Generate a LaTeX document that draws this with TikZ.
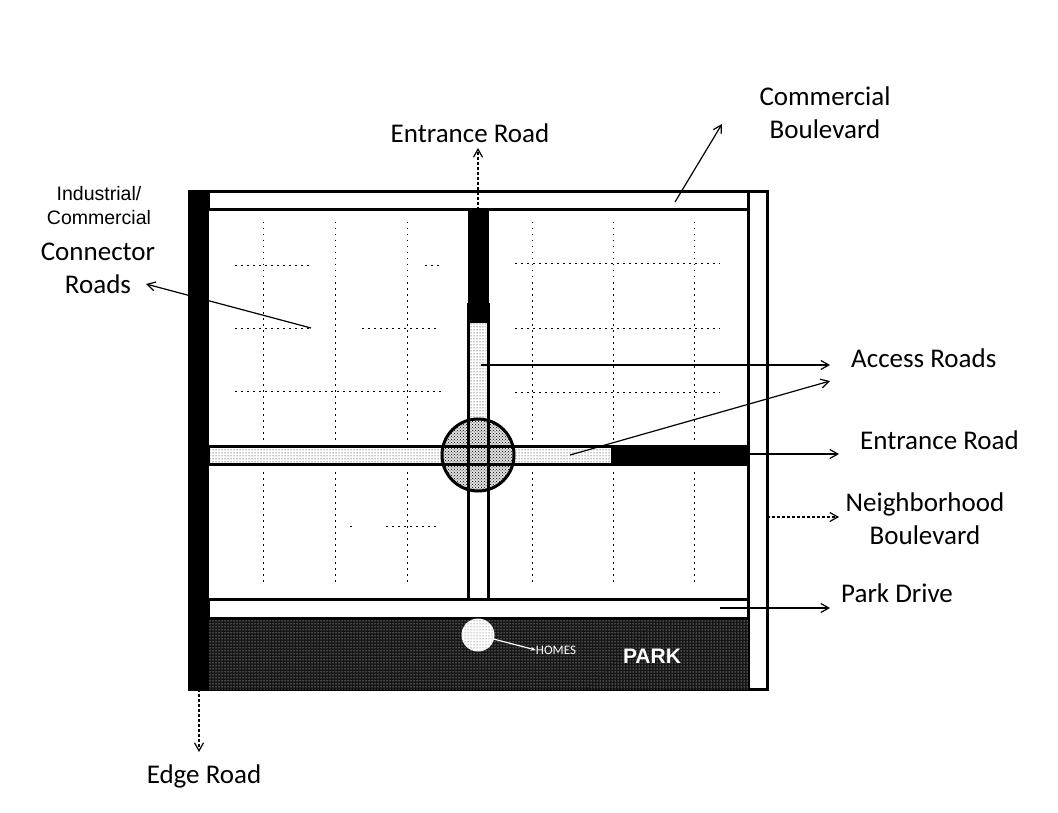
\documentclass[tikz,border=0pt]{standalone}
\usepackage{fontspec}
\setmainfont{Carlito}
\newfontfamily\labelsans{Liberation Sans}
\usepackage{xcolor}
\definecolor{ParkDark}{HTML}{161616}
\usetikzlibrary{arrows.meta,positioning,calc,patterns}

\begin{document}
\begin{tikzpicture}[x=1pt,y=-1pt,
  lbl/.style={font=\fontsize{27}{33}\selectfont,align=center,inner sep=0pt},
  lblsans/.style={font=\labelsans\fontsize{19.5}{24}\selectfont,align=center,inner sep=0pt},
  arr/.style={-{Straight Barb[length=8pt,width=9pt]},line width=1.2pt},
  road/.style={draw=black,line width=3pt,fill=white,inner sep=0pt,outer sep=0pt,anchor=north west},
  solidroad/.style={fill=black,draw=black,inner sep=0pt,outer sep=0pt,anchor=north west},
  gridline/.style={line width=0.9pt,dash pattern=on 1.5pt off 4.5pt,black}
]
  \useasboundingbox (0,0) rectangle (1058,813);
  % outer site
  \node[road,minimum width=578pt,minimum height=497pt] (site) at (189,192) {};
  \node[road,minimum width=540pt,minimum height=18pt] (commercial) at (208,192) {};
  \node[road,minimum width=19pt,minimum height=497pt] (neighborhood) at (748,192) {};
  \node[solidroad,minimum width=19pt,minimum height=497pt] (edge) at (189,192) {};
  % faint local streets
  \foreach \x in {263,335,407,532,613,694} {
    \draw[gridline] (\x,222) -- (\x,440);
    \draw[gridline] (\x,472) -- (\x,585);
  }
  \draw[gridline] (235,265) -- (310,265);
  \draw[gridline] (425,265) -- (442,265);
  \draw[gridline] (515,263) -- (720,263);
  \draw[gridline] (235,328) -- (310,328);
  \draw[gridline] (362,328) -- (440,328);
  \draw[gridline] (515,328) -- (720,328);
  \draw[gridline] (235,391) -- (442,391);
  \draw[gridline] (515,392) -- (720,392);
  \draw[gridline] (350,526) -- (356,526);
  \draw[gridline] (386,526) -- (438,526);
  % park and drive
  \node[solidroad,fill=ParkDark,minimum width=540pt,minimum height=72pt] (park) at (208,617) {};
  \fill[pattern=dots,pattern color=white] (park.north west) rectangle (park.south east);
  \node[road,minimum width=540pt,minimum height=19pt] (parkdrive) at (208,599) {};
  % entrance roads
  \node[road,minimum width=20pt,minimum height=295pt] (vroad) at (468,304) {};
  \node[solidroad,minimum width=20pt,minimum height=112pt] (ventry) at (468,210) {};
  \fill[pattern=dots,pattern color=black] (470,322) rectangle (486,420);
  \node[road,minimum width=540pt,minimum height=18pt] (hroad) at (208,446) {};
  \fill[pattern=dots,pattern color=black] (210,448) rectangle (611,462);
  \node[solidroad,minimum width=137pt,minimum height=20pt] (hentry) at (611,445) {};
  % roundabout
  \node[circle,draw=black,line width=3pt,fill=black!12,minimum size=72pt,inner sep=0pt,outer sep=0pt] (hub) at (478,455) {};
  \fill[pattern=crosshatch dots,pattern color=black] (hub) circle (35pt);
  \draw[line width=3pt] (468,420) -- (468,490) (488,420) -- (488,490);
  \draw[line width=3pt] (443,446) -- (513,446) (443,464) -- (513,464);
  % pond
  \node[circle,fill=white,draw=none,minimum size=33pt,inner sep=0pt,outer sep=0pt] (pond) at (478,635) {};
  \fill[pattern=dots,pattern color=black!70] (pond) circle (16pt);
  \node[font=\fontsize{13}{14}\selectfont,text=white,inner sep=0pt] (homes) at (556,650) {HOMES};
  \node[font=\labelsans\fontsize{21}{22}\selectfont\bfseries,text=white,inner sep=0pt] (parklbl) at (652,656) {PARK};
  \draw[-{Stealth[length=5pt]},white,line width=1.2pt] (pond) -- (homes.west);
  % labels
  \node[lblsans] (indlbl) at (99,206) {Industrial/\\Commercial};
  \node[lbl] (connlbl) at (98,268) {Connector\\Roads};
  \node[lbl] (entlbl) at (470,133) {Entrance Road};
  \node[lbl] (comlbl) at (825,113) {Commercial\\Boulevard};
  \node[lbl,anchor=west] (acclbl) at (851,358) {Access Roads};
  \node[lbl,anchor=west] (ent2lbl) at (860,440) {Entrance Road};
  \node[lbl] (neilbl) at (925,519) {Neighborhood\\Boulevard};
  \node[lbl,anchor=west] (parklabel) at (841,593) {Park Drive};
  \node[lbl] (edgelbl) at (204,776) {Edge Road};
  % leaders
  \coordinate (accfrom) at (481,365);
  \coordinate (accfrom2) at (570,455);
  \coordinate (conn) at (311,328);
  \coordinate (comfrom) at (675,202);
  \coordinate (accend) at (830,365);
  \coordinate (accend2) at (830,381);
  \coordinate (entfrom) at (748,454);
  \coordinate (entend) at (839,454);
  \coordinate (neifrom) at (767,517);
  \coordinate (neiend) at (839,517);
  \coordinate (drivefrom) at (720,608);
  \coordinate (driveend) at (830,608);
  \coordinate (edgefrom) at (199,689);
  \coordinate (edgeend) at (199,752);
  \coordinate (topfrom) at (478,210);
  \coordinate (topend) at (478,148);
  \coordinate (connend) at (146,284);
  \coordinate (comend) at (722,124);
  \draw[arr] (conn) -- (connend);
  \draw[arr,densely dashed] (topfrom) -- (topend);
  \draw[arr] (comfrom) -- (comend);
  \draw[arr] (accfrom) -- (accend);
  \draw[arr] (accfrom2) -- (accend2);
  \draw[arr] (entfrom) -- (entend);
  \draw[arr,densely dashed] (neifrom) -- (neiend);
  \draw[arr] (drivefrom) -- (driveend);
  \draw[arr,densely dashed] (edgefrom) -- (edgeend);
\end{tikzpicture}
\end{document}
